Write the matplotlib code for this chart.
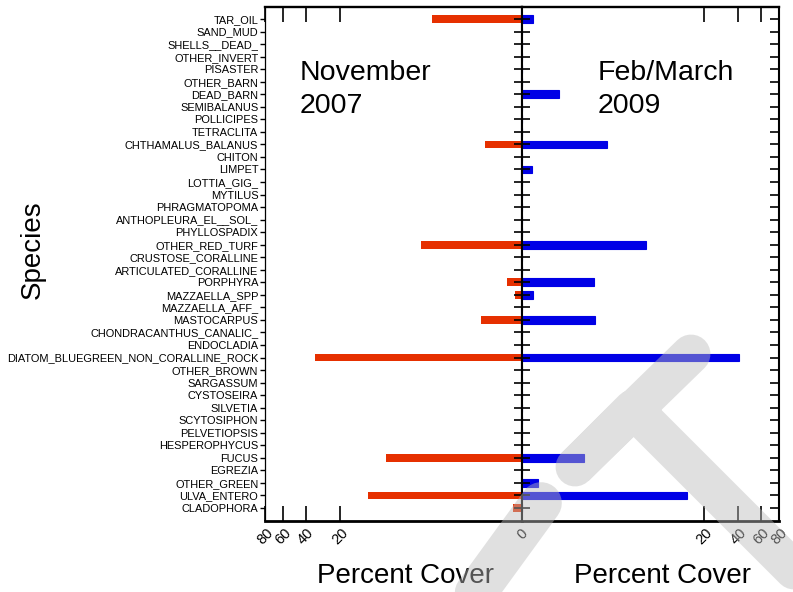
import numpy as np
import matplotlib
matplotlib.use('Agg')
import matplotlib.pyplot as plt
from matplotlib.lines import Line2D

plt.rcParams['font.family'] = ['Liberation Sans', 'DejaVu Sans']

species = ['TAR_OIL', 'SAND_MUD', 'SHELLS__DEAD_', 'OTHER_INVERT', 'PISASTER',
           'OTHER_BARN', 'DEAD_BARN', 'SEMIBALANUS', 'POLLICIPES', 'TETRACLITA',
           'CHTHAMALUS_BALANUS', 'CHITON', 'LIMPET', 'LOTTIA_GIG_', 'MYTILUS',
           'PHRAGMATOPOMA', 'ANTHOPLEURA_EL__SOL_', 'PHYLLOSPADIX', 'OTHER_RED_TURF',
           'CRUSTOSE_CORALLINE', 'ARTICULATED_CORALLINE', 'PORPHYRA', 'MAZZAELLA_SPP',
           'MAZZAELLA_AFF_', 'MASTOCARPUS', 'CHONDRACANTHUS_CANALIC_', 'ENDOCLADIA',
           'DIATOM_BLUEGREEN_NON_CORALLINE_ROCK', 'OTHER_BROWN', 'SARGASSUM',
           'CYSTOSEIRA', 'SILVETIA', 'SCYTOSIPHON', 'PELVETIOPSIS', 'HESPEROPHYCUS',
           'FUCUS', 'EGREZIA', 'OTHER_GREEN', 'ULVA_ENTERO', 'CLADOPHORA']

# percent cover, November 2007 (left) and Feb/March 2009 (right)
nov_2007 = [1.2, 0, 0, 0, 0, 0, 0, 0, 0, 0,
            0.033, 0, 0, 0, 0, 0, 0, 0, 1.88, 0,
            0, 0.00084, 0.000054, 0, 0.053, 0, 0, 33.5, 0, 0,
            0, 0, 0, 0, 0, 6.24, 0, 0, 10.2, 0.00014]
feb_2009 = [0.00025, 0, 0, 0, 0, 0, 0.036, 0, 0, 0,
            0.94, 0, 0.00018, 0, 0, 0, 0, 0, 4.4, 0,
            0, 0.50, 0.00030, 0, 0.53, 0, 0, 40.4, 0, 0,
            0, 0, 0, 0, 0, 0.27, 0, 0.0011, 13.5, 0]

ticks_left = [20, 40, 60, 80]
ticks_right = [0, 20, 40, 60, 80]


def fwd(x):
    x = np.asarray(x, dtype=float)
    return np.sign(x) * np.abs(x) ** 0.25


def inv(x):
    x = np.asarray(x, dtype=float)
    return np.sign(x) * np.abs(x) ** 4


W, H = 793, 592
fig = plt.figure(figsize=(7.93, 5.92), dpi=100)
ax_l = fig.add_axes([265 / W, 1 - 520.5 / H, 257 / W, 514 / H])
ax_r = fig.add_axes([522 / W, 1 - 520.5 / H, 257 / W, 514 / H])

y = np.arange(len(species))
red = '#e63000'
blue = '#0000e6'

ax_l.barh(y, nov_2007, height=0.62, color=red, linewidth=0)
ax_r.barh(y, feb_2009, height=0.62, color=blue, edgecolor=blue, linewidth=0.8)

for ax in (ax_l, ax_r):
    ax.set_xscale('function', functions=(fwd, inv))
    ax.set_ylim(40, -1)
    ax.set_yticks(y)
    ax.spines['top'].set_linewidth(1.7)
    ax.spines['bottom'].set_linewidth(2.0)
    ax.tick_params(axis='x', which='both', top=True, bottom=True, direction='in',
                   length=11, width=1.2, labelsize=10.5, pad=4)
    ax.minorticks_off()

ax_l.set_xlim(80, 0)
ax_r.set_xlim(0, 80)
ax_l.set_xticks(ticks_left)
ax_l.set_xticklabels([str(t) for t in ticks_left], rotation=45, ha='center')
ax_r.set_xticks(ticks_right)
ax_r.set_xticklabels([str(t) for t in ticks_right], rotation=45, ha='center')

ax_l.spines['left'].set_linewidth(0.9)
ax_l.spines['right'].set_linewidth(1.5)
ax_r.spines['left'].set_linewidth(1.5)
ax_r.spines['right'].set_linewidth(1.5)

ax_l.set_yticklabels(species)
ax_l.tick_params(axis='y', left=True, right=False, direction='out', length=3.6,
                 width=1.0, pad=1.2, labelsize=7.9)
ax_r.tick_params(axis='y', left=True, right=False, direction='inout', length=11,
                 width=1.2, labelleft=False)

ax_t = ax_r.twinx()
ax_t.set_ylim(40, -1)
ax_t.set_yticks(y)
ax_t.tick_params(axis='y', right=True, direction='in', length=6.5, width=1.2,
                 labelright=False)
for s in ax_t.spines.values():
    s.set_visible(False)

fig.text(300 / W, 1 - 80 / H, 'November', fontsize=20.5, va='baseline')
fig.text(300 / W, 1 - 113 / H, '2007', fontsize=20.5, va='baseline')
fig.text(598 / W, 1 - 80 / H, 'Feb/March', fontsize=20.5, va='baseline')
fig.text(598 / W, 1 - 113 / H, '2009', fontsize=20.5, va='baseline')

fig.text(405.5 / W, 1 - 583 / H, 'Percent Cover', fontsize=20, ha='center', va='baseline')
fig.text(663 / W, 1 - 583 / H, 'Percent Cover', fontsize=20, ha='center', va='baseline')
fig.text(33 / W, 1 - 250 / H, 'Species', fontsize=20, rotation=90, ha='center', va='center')

# grey watermark drawn over the figure
def px(pts):
    return [p[0] / W for p in pts], [1 - p[1] / H for p in pts]

wm = '#bbbbbb'
xs, ys = px([(900, 676), (633, 409), (575, 467), (691, 354)])
fig.add_artist(Line2D(xs, ys, transform=fig.transFigure, color=wm, alpha=0.45,
                      linewidth=28, solid_capstyle='round', solid_joinstyle='round',
                      zorder=10))
xs, ys = px([(541, 503), (400, 697)])
fig.add_artist(Line2D(xs, ys, transform=fig.transFigure, color=wm, alpha=0.45,
                      linewidth=30, solid_capstyle='round', zorder=10))

fig.savefig('out.png', dpi=100)
